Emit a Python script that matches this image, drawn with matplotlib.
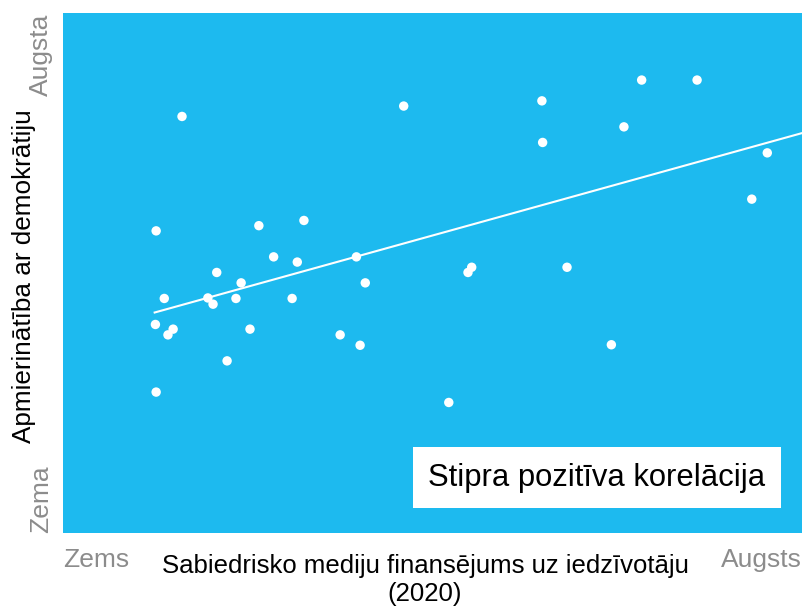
import matplotlib
matplotlib.use("Agg")
import matplotlib.pyplot as plt
import numpy as np

# === DATA (0-100 scale) ===
funding = [12.6, 26.5, 32.6, 28.5, 31.7, 39.7, 20.8, 24.1, 40.9, 13.7,
           19.6, 20.3, 23.4, 31.0, 12.5, 14.9, 14.2, 25.3, 37.5, 40.2,
           22.2, 12.6, 16.1, 46.1, 64.8, 64.9, 78.3, 85.8, 75.9, 95.3,
           93.2, 55.3, 54.8, 68.2, 74.2, 52.2]
satisfaction = [58.1, 59.1, 60.1, 53.1, 52.1, 53.1, 50.1, 48.1, 48.1, 45.1,
                45.2, 44.0, 45.1, 45.1, 40.1, 39.2, 38.1, 39.2, 38.1, 36.1,
                33.1, 27.1, 80.1, 82.1, 83.1, 75.1, 87.1, 87.1, 78.1, 73.1,
                64.2, 51.1, 50.1, 51.1, 36.2, 25.1]
trend_x = [12.4, 100]
trend_y = [42.4, 76.9]

xlabel = "Sabiedrisko mediju finansējums uz iedzīvotāju\n(2020)"
ylabel = "Apmierinātība ar demokrātiju"
x_low, x_high = "Zems", "Augsts"
y_low, y_high = "Zema", "Augsta"
note = "Stipra pozitīva korelācija"

# === STYLE ===
plt.rcParams['font.family'] = ['Liberation Sans', 'DejaVu Sans']
BLUE = "#1DBAEF"
GREY = "#8C8C8C"

fig = plt.figure(figsize=(8.05, 6.09), dpi=100)
ax = fig.add_axes([0.0783, 0.1248, 0.918, 0.8539])
ax.set_facecolor(BLUE)
for s in ax.spines.values():
    s.set_visible(False)
ax.set_xlim(0, 100)
ax.set_ylim(0, 100)
ax.set_xticks([])
ax.set_yticks([])

ax.plot(trend_x, trend_y, color="white", lw=1.5, zorder=2)
ax.scatter(funding, satisfaction, s=46, color="white", edgecolors="none", zorder=3)

ax.text(72.2, 10.6, note, fontsize=22.3, ha="center", va="center",
        bbox=dict(boxstyle="square,pad=0.5", facecolor="white", edgecolor="none"))

# axis labels
fig.text(0.528, 0.047, xlabel, fontsize=18.5, ha="center", va="center",
         linespacing=1.2)
fig.text(0.03, 0.547, ylabel, fontsize=18.8, ha="center", va="center",
         rotation=90)
fig.text(0.0783, 0.080, x_low, fontsize=19, color=GREY, ha="left", va="center")
fig.text(0.9963, 0.080, x_high, fontsize=19, color=GREY, ha="right", va="center")
fig.text(0.051, 0.1248, y_low, fontsize=19, color=GREY, ha="center", va="bottom",
         rotation=90)
fig.text(0.051, 0.978, y_high, fontsize=19, color=GREY, ha="center", va="top",
         rotation=90)

plt.savefig("out.png", dpi=100, facecolor="white")
